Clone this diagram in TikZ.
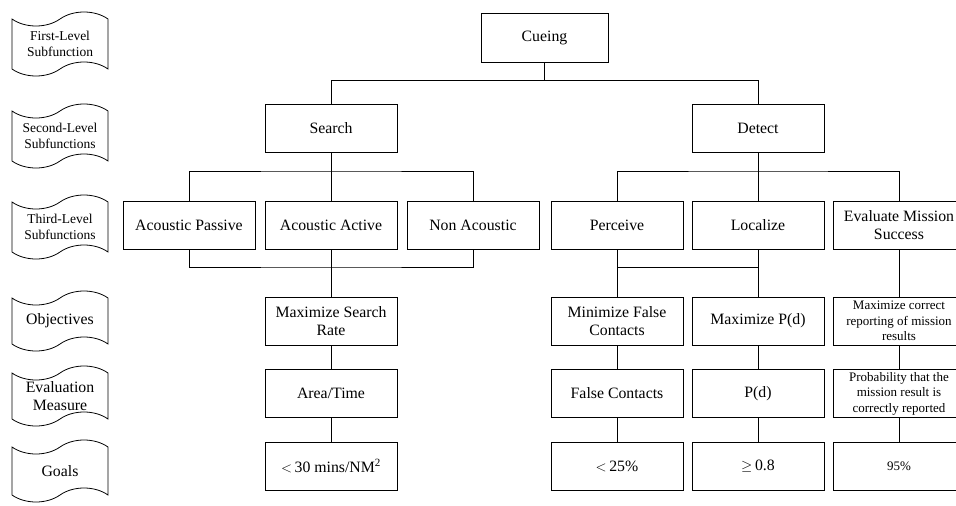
\documentclass[tikz,border=0pt]{standalone}
\usepackage{fontspec}
\setmainfont{Liberation Serif}
\usetikzlibrary{shapes.symbols, positioning}

\begin{document}
\begin{tikzpicture}[x=1pt, y=-1pt,
    func/.style={draw, line width=0.9pt, minimum width=132pt, minimum height=48pt,
                 align=center, inner sep=2pt, font=\fontsize{15.8}{18}\selectfont},
    smalltext/.style={font=\fontsize{13}{15.5}\selectfont},
    level/.style={draw, tape, line width=0.8pt, minimum width=96pt, minimum height=64pt,
                  tape bend height=14pt, align=center, inner sep=1pt,
                  font=\fontsize{13.5}{15.5}\selectfont},
    link/.style={line width=0.9pt}
]
    \useasboundingbox (0,0) rectangle (956,506);

    % level labels
    \node[level] (lvlfirst) at (60,44) {First-Level\\Subfunction};
    \node[level] (lvlsecond) at (60,136) {Second-Level\\Subfunctions};
    \node[level] (lvlthird) at (60,227) {Third-Level\\Subfunctions};
    \node[level, minimum height=60pt, font=\fontsize{15.8}{18}\selectfont] (lvlobj) at (60,321) {Objectives};
    \node[level, minimum height=60pt, font=\fontsize{15.8}{18}\selectfont] (lvleval) at (60,396) {Evaluation\\Measure};
    \node[level, minimum height=62pt, font=\fontsize{15.8}{18}\selectfont] (lvlgoal) at (60,471) {Goals};

    % functions
    \node[func, minimum width=127pt, minimum height=49pt] (cueing) at (544.5,37.5) {Cueing};
    \node[func] (search) at (331,128) {Search};
    \node[func] (detect) at (758,128) {Detect};

    \node[func] (acpassive) at (189,225) {Acoustic Passive};
    \node[func] (acactive) at (331,225) {Acoustic Active};
    \node[func] (nonac) at (473,225) {Non Acoustic};
    \node[func] (perceive) at (617,225) {Perceive};
    \node[func] (localize) at (758,225) {Localize};
    \node[func] (evalmission) at (899,225) {Evaluate Mission\\Success};

    % objectives
    \node[func] (maxrate) at (331,321) {Maximize Search\\Rate};
    \node[func] (minfalse) at (617,321) {Minimize False\\Contacts};
    \node[func] (maxpd) at (758,321) {Maximize P(d)};
    \node[func, smalltext] (maxreport) at (899,321) {Maximize correct\\reporting of mission\\results};

    % evaluation measures
    \node[func] (areatime) at (331,393.5) {Area/Time};
    \node[func] (falsecont) at (617,393.5) {False Contacts};
    \node[func] (pd) at (758,393.5) {P(d)};
    \node[func, smalltext] (probrep) at (899,393.5) {Probability that the\\mission result is\\correctly reported};

    % goals
    \node[func] (goalrate) at (331,466) {$<$\,30 mins/NM\textsuperscript{2}};
    \node[func] (goalfalse) at (617,466) {$<$\,25\%};
    \node[func] (goalpd) at (758,466) {$\geq$\,0.8};
    \node[func, smalltext] (goalrep) at (899,466) {95\%};

    % connectors
    \draw[link] (cueing.south) -- ++(0,18) coordinate (cbar);
    \draw[link] (search.north) |- (cbar) -| (detect.north);

    \draw[link] (search.south) -- (acactive.north);
    \draw[link] (acpassive.north) |- (search.south |- 0,171) -| (nonac.north);
    \draw[link] (acpassive.south) |- (acactive.south |- 0,267) -| (nonac.south);
    \draw[link] (acactive.south) -- (maxrate.north);

    \draw[link] (detect.south) -- (localize.north);
    \draw[link] (perceive.north) |- (detect.south |- 0,171) -| (evalmission.north);
    \draw[link] (perceive.south) |- (localize.south |- 0,267);
    \draw[link] (perceive.south) -- (minfalse.north);
    \draw[link] (localize.south) -- (maxpd.north);
    \draw[link] (evalmission.south) -- (maxreport.north);

    \draw[link] (maxrate) -- (areatime) -- (goalrate);
    \draw[link] (minfalse) -- (falsecont) -- (goalfalse);
    \draw[link] (maxpd) -- (pd) -- (goalpd);
    \draw[link] (maxreport) -- (probrep) -- (goalrep);
\end{tikzpicture}
\end{document}
